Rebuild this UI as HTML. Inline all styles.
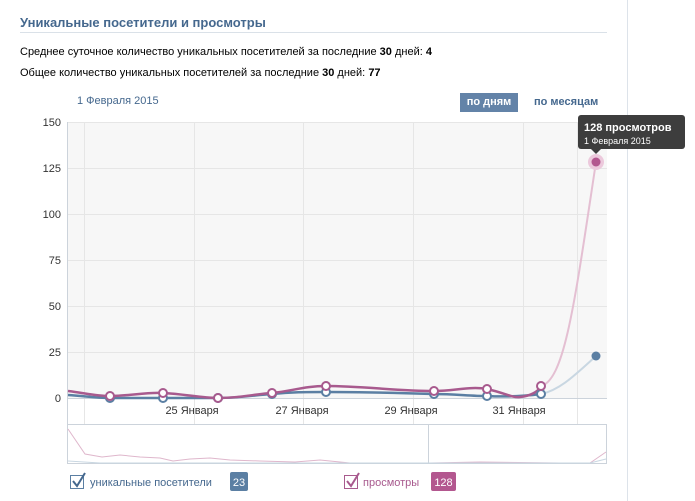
<!DOCTYPE html>
<html><head><meta charset="utf-8"><style>
body{margin:0;width:695px;height:501px;background:#fff;font-family:"Liberation Sans","DejaVu Sans",sans-serif;position:relative;overflow:hidden}
.a{position:absolute;white-space:nowrap}
</style></head><body>
<div class="a" style="left:627px;top:0;width:1px;height:501px;background:#dde3ea"></div>
<div class="a" style="left:20px;top:15px;font-size:13px;font-weight:bold;color:#45688e">Уникальные посетители и просмотры</div>
<div class="a" style="left:20px;top:32px;width:587px;height:1px;background:#dae1e8"></div>
<div class="a" style="left:20px;top:46px;font-size:11px;color:#000">Среднее суточное количество уникальных посетителей за последние <b>30</b> дней: <b>4</b></div>
<div class="a" style="left:20px;top:67px;font-size:11px;color:#000">Общее количество уникальных посетителей за последние <b>30</b> дней: <b>77</b></div>
<div class="a" style="left:77px;top:95px;font-size:11px;color:#45688e">1 Февраля 2015</div>
<div class="a" style="left:460px;top:93px;width:58px;height:19px;background:#6383a8;color:#fff;font-size:11px;font-weight:bold;text-align:center;line-height:19px">по дням</div>
<div class="a" style="left:534px;top:96px;font-size:11px;font-weight:bold;color:#45688e">по месяцам</div>
<svg class="a" style="left:0;top:0" width="695" height="501">
<rect x="68" y="122" width="539" height="276" fill="#f7f7f7"/>
<g stroke="#e6e6e6" stroke-width="1">
<line x1="68" y1="122.5" x2="607" y2="122.5"/><line x1="68" y1="168.5" x2="607" y2="168.5"/><line x1="68" y1="214.5" x2="607" y2="214.5"/><line x1="68" y1="260.5" x2="607" y2="260.5"/><line x1="68" y1="306.5" x2="607" y2="306.5"/><line x1="68" y1="352.5" x2="607" y2="352.5"/>
<line x1="84.5" y1="122" x2="84.5" y2="424"/><line x1="194.5" y1="122" x2="194.5" y2="424"/><line x1="303.5" y1="122" x2="303.5" y2="424"/><line x1="413.5" y1="122" x2="413.5" y2="424"/><line x1="523.5" y1="122" x2="523.5" y2="424"/><line x1="577.5" y1="122" x2="577.5" y2="424"/>
</g>
<line x1="67.5" y1="122" x2="67.5" y2="424" stroke="#ccd3db"/>
<line x1="68" y1="398.5" x2="607" y2="398.5" stroke="#ccd3db"/>
<g font-size="11" fill="#333" text-anchor="end"><text x="61" y="126">150</text><text x="61" y="172">125</text><text x="61" y="218">100</text><text x="61" y="264">75</text><text x="61" y="310">50</text><text x="61" y="356">25</text><text x="61" y="402">0</text></g>
<g font-size="11" fill="#333" text-anchor="middle"><text x="192" y="414">25 Января</text><text x="302" y="414">27 Января</text><text x="411" y="414">29 Января</text><text x="519" y="414">31 Января</text></g>
<path d="M541,394 C560,390 575,375 596,356" stroke="#c9d7e2" stroke-width="2" fill="none"/>
<path d="M541,386 C565,380 575,300 596,162" stroke="#e4bfd2" stroke-width="2" fill="none"/>
<path d="M68,395 C85,396 95,398 110,398 C130,398 145,398 163,398 C185,398 200,398 218,398 C240,398 255,395 272,394 C292,392 305,392 326,392 C360,392 400,393 434,394 C455,394 470,396 487,396 C505,397 525,396 541,394" stroke="#5b7fa3" stroke-width="2.5" fill="none"/>
<path d="M68,391 C85,393 95,396 110,396 C130,396 145,392 163,393 C185,394 200,398 218,398 C240,398 255,394 272,393 C292,391 305,386 326,386 C360,386 400,391 434,391 C455,391 470,386 487,389 C505,393 512,398 520,397 C530,396 538,392 541,386" stroke="#a85a8e" stroke-width="2.5" fill="none"/>
<g fill="#fff" stroke="#5b7fa3" stroke-width="2"><circle cx="110" cy="398" r="4"/><circle cx="163" cy="398" r="4"/><circle cx="218" cy="398" r="4"/><circle cx="272" cy="394" r="4"/><circle cx="326" cy="392" r="4"/><circle cx="434" cy="394" r="4"/><circle cx="487" cy="396" r="4"/><circle cx="541" cy="394" r="4"/></g>
<g fill="#fff" stroke="#a85a8e" stroke-width="2"><circle cx="110" cy="396" r="4"/><circle cx="163" cy="393" r="4"/><circle cx="218" cy="398" r="4"/><circle cx="272" cy="393" r="4"/><circle cx="326" cy="386" r="4"/><circle cx="434" cy="391" r="4"/><circle cx="487" cy="389" r="4"/><circle cx="541" cy="386" r="4"/></g>
<circle cx="596" cy="356" r="4.5" fill="#5b7fa3"/>
<circle cx="596" cy="162" r="8" fill="#ecc9dc"/><circle cx="596" cy="162" r="4.5" fill="#b3578f"/>
<rect x="67.5" y="424.5" width="539" height="39" fill="#fff" stroke="#ccd3db"/>
<line x1="428.5" y1="424" x2="428.5" y2="464" stroke="#ccd3db"/>
<polyline points="68,429 85,454 102,457 120,455 140,457 160,458 173,461 190,459 210,458 230,460 260,461 295,462 320,460 350,463 430,463 480,462 560,463 590,463 606,452" fill="none" stroke="#dfb7cc" stroke-width="1"/>
<polyline points="68,461 100,463 400,463 590,463 606,459" fill="none" stroke="#c9d7e2" stroke-width="1"/>
<rect x="70.5" y="475.5" width="13" height="13" fill="#fff" stroke="#5b7fa3"/>
<path d="M73,481 L77,486 L85,473" stroke="#45688e" stroke-width="2" fill="none"/>
<rect x="344.5" y="475.5" width="13" height="13" fill="#fff" stroke="#a85a8e"/>
<path d="M347,481 L351,486 L359,473" stroke="#a85a8e" stroke-width="2" fill="none"/>
<rect x="230" y="472" width="18" height="19" rx="2" fill="#5b7fa3"/>
<rect x="431" y="472" width="25" height="19" rx="2" fill="#b3578f"/>
<g font-size="11"><text x="90" y="486" fill="#45688e">уникальные посетители</text><text x="239" y="486" fill="#fff" text-anchor="middle">23</text><text x="363" y="486" fill="#a85a8e">просмотры</text><text x="443.5" y="486" fill="#fff" text-anchor="middle">128</text></g>
<rect x="578" y="115" width="107" height="34" rx="3" fill="#3d3d3d"/>
<path d="M591,149 L596,154 L601,149 Z" fill="#3d3d3d"/>
<text x="584" y="131" font-size="11" font-weight="bold" fill="#fff">128 просмотров</text>
<text x="584" y="144" font-size="9" fill="#fff">1 Февраля 2015</text>
</svg>
</body></html>
